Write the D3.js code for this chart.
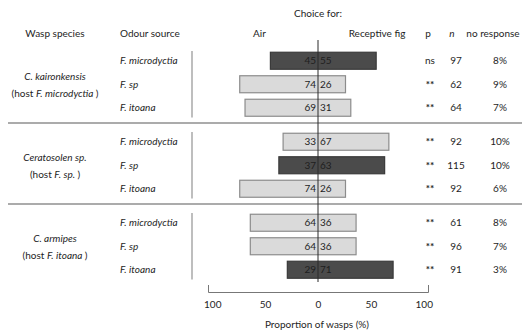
<!DOCTYPE html>
<html>
<head>
<meta charset="utf-8">
<script src="https://cdn.jsdelivr.net/npm/d3@7"></script>
<style>
  body { margin: 0; background: #fff; }
  svg text { font-family: Lato, "Open Sans", sans-serif; font-size: 10px; fill: #1e1e1e; }
  .it { font-style: italic; }
</style>
</head>
<body>
<div class="chart"></div>
<script>
// data
var waspSpecies = ["C. kaironkensis", "Ceratosolen sp.", "C. armipes"];
var hostFigs = ["F. microdyctia", "F. sp.", "F. itoana"];
var odourSources = ["F. microdyctia", "F. sp", "F. itoana"];
var airPct = [[45, 74, 69], [33, 37, 74], [64, 64, 29]];
var figPct = [[55, 26, 31], [67, 63, 26], [36, 36, 71]];
var pValues = [["ns", "**", "**"], ["**", "**", "**"], ["**", "**", "**"]];
var nValues = [[97, 62, 64], [92, 115, 92], [61, 96, 91]];
var noResponse = [["8%", "9%", "7%"], ["10%", "10%", "6%"], ["8%", "7%", "3%"]];
var axisTicks = [-100, -50, 0, 50, 100];

var width = 522, height = 333;

var svg = d3.select(".chart").append("svg")
    .attr("width", width)
    .attr("height", height);

const xScale = d3.scaleLinear()
    .domain([-104, 104])
    .range([208, 428]);

const yGroup = d3.scaleBand()
    .domain(d3.range(waspSpecies.length))
    .range([42, 285]);

const yRow = d3.scaleBand()
    .domain(d3.range(odourSources.length))
    .range([7, 77.5]);

const barH = 17;

// build one row per wasp/odour pair
var rows = [];
waspSpecies.forEach(function(w, g) {
    odourSources.forEach(function(o, r) {
        rows.push({
            g: g, r: r, odour: o,
            air: airPct[g][r], fig: figPct[g][r],
            p: pValues[g][r], n: nValues[g][r], nr: noResponse[g][r],
            host: g === r
        });
    });
});
function cy(d) { return yGroup(d.g) + yRow(d.r) + yRow.bandwidth() / 2; }

// headers
svg.append("text").attr("x", 318).attr("y", 17).attr("text-anchor", "middle").text("Choice for:");
svg.append("text").attr("x", 55).attr("y", 37).attr("text-anchor", "middle").text("Wasp species");
svg.append("text").attr("x", 120).attr("y", 37).text("Odour source");
svg.append("text").attr("x", 253).attr("y", 37).text("Air");
svg.append("text").attr("x", 377).attr("y", 37).attr("text-anchor", "middle").text("Receptive fig");
svg.append("text").attr("x", 428).attr("y", 37).attr("text-anchor", "middle").text("p");
svg.append("text").attr("x", 452).attr("y", 37).attr("text-anchor", "middle").attr("class", "it").text("n");
svg.append("text").attr("x", 493).attr("y", 37).attr("text-anchor", "middle").text("no response");

// separators between wasp groups
svg.append("g").selectAll("line")
    .data(d3.range(1, waspSpecies.length))
    .enter().append("line")
    .attr("x1", 8).attr("x2", width)
    .attr("y1", function(g) { return yGroup(g); })
    .attr("y2", function(g) { return yGroup(g); })
    .attr("stroke", "#8f8f8f")
    .attr("stroke-width", 1.6);

// wasp species labels
var wasp = svg.append("g").selectAll("g")
    .data(waspSpecies)
    .enter().append("g");
wasp.append("text")
    .attr("class", "it")
    .attr("x", 55)
    .attr("y", function(d, i) { return yGroup(i) + yGroup.bandwidth() / 2 - 3; })
    .attr("text-anchor", "middle")
    .text(function(d) { return d; });
var hostLab = wasp.append("text")
    .attr("x", 55)
    .attr("y", function(d, i) { return yGroup(i) + yGroup.bandwidth() / 2 + 14; })
    .attr("text-anchor", "middle");
hostLab.append("tspan").text("(host ");
hostLab.append("tspan").attr("class", "it").text(function(d, i) { return hostFigs[i] + " "; });
hostLab.append("tspan").text(")");

// left frame line per group
svg.append("g").selectAll("line")
    .data(waspSpecies)
    .enter().append("line")
    .attr("x1", 192).attr("x2", 192)
    .attr("y1", function(d, i) { return yGroup(i) + yRow(0) + 2; })
    .attr("y2", function(d, i) { return yGroup(i) + yRow(odourSources.length - 1) + yRow.bandwidth() - 2; })
    .attr("stroke", "#a8a8a8")
    .attr("stroke-width", 1.5);

var row = svg.append("g").selectAll("g")
    .data(rows)
    .enter().append("g");

// odour source
row.append("text")
    .attr("class", "it")
    .attr("x", 120)
    .attr("y", cy)
    .attr("dy", "0.35em")
    .text(function(d) { return d.odour; });

// bars
row.append("rect")
    .attr("x", function(d) { return xScale(-d.air); })
    .attr("y", function(d) { return cy(d) - barH / 2; })
    .attr("width", function(d) { return xScale(d.fig) - xScale(-d.air); })
    .attr("height", barH)
    .attr("fill", function(d) { return d.host ? "#4b4b4b" : "#dadada"; })
    .attr("stroke", function(d) { return d.host ? "#3a3a3a" : "#8c8c8c"; })
    .attr("stroke-width", 1.2);

row.append("text")
    .attr("x", xScale(0) - 2)
    .attr("y", cy)
    .attr("dy", "0.35em")
    .attr("text-anchor", "end")
    .text(function(d) { return d.air; });
row.append("text")
    .attr("x", xScale(0) + 2)
    .attr("y", cy)
    .attr("dy", "0.35em")
    .text(function(d) { return d.fig; });

// p, n, no response
row.append("text")
    .attr("x", 430).attr("y", cy).attr("dy", "0.35em")
    .attr("text-anchor", "middle")
    .style("font-weight", function(d) { return d.p === "**" ? "bold" : null; })
    .text(function(d) { return d.p; });
row.append("text")
    .attr("x", 456).attr("y", cy).attr("dy", "0.35em")
    .attr("text-anchor", "middle")
    .text(function(d) { return d.n; });
row.append("text")
    .attr("x", 500).attr("y", cy).attr("dy", "0.35em")
    .attr("text-anchor", "middle")
    .text(function(d) { return d.nr; });

// zero line
svg.append("line")
    .attr("x1", xScale(0)).attr("x2", xScale(0))
    .attr("y1", 40).attr("y2", 282)
    .attr("stroke", "#2a2a2a")
    .attr("stroke-width", 1);

// x axis
const xAxis = d3.axisBottom(xScale)
    .tickValues(axisTicks)
    .tickSizeInner(0)
    .tickSizeOuter(-7)
    .tickPadding(9)
    .tickFormat(function(d) { return Math.abs(d); });

const xAxisGroup = svg.append("g")
    .attr("class", "axis x-axis")
    .attr("transform", "translate(0,292)")
    .call(xAxis);
xAxisGroup.select(".domain").attr("stroke", "#777");
xAxisGroup.selectAll(".tick text")
    .style("font-family", "Lato, sans-serif")
    .style("font-size", "10px")
    .attr("fill", "#1e1e1e");

svg.append("text")
    .attr("x", 317).attr("y", 328)
    .attr("text-anchor", "middle")
    .text("Proportion of wasps (%)");
</script>
</body>
</html>
